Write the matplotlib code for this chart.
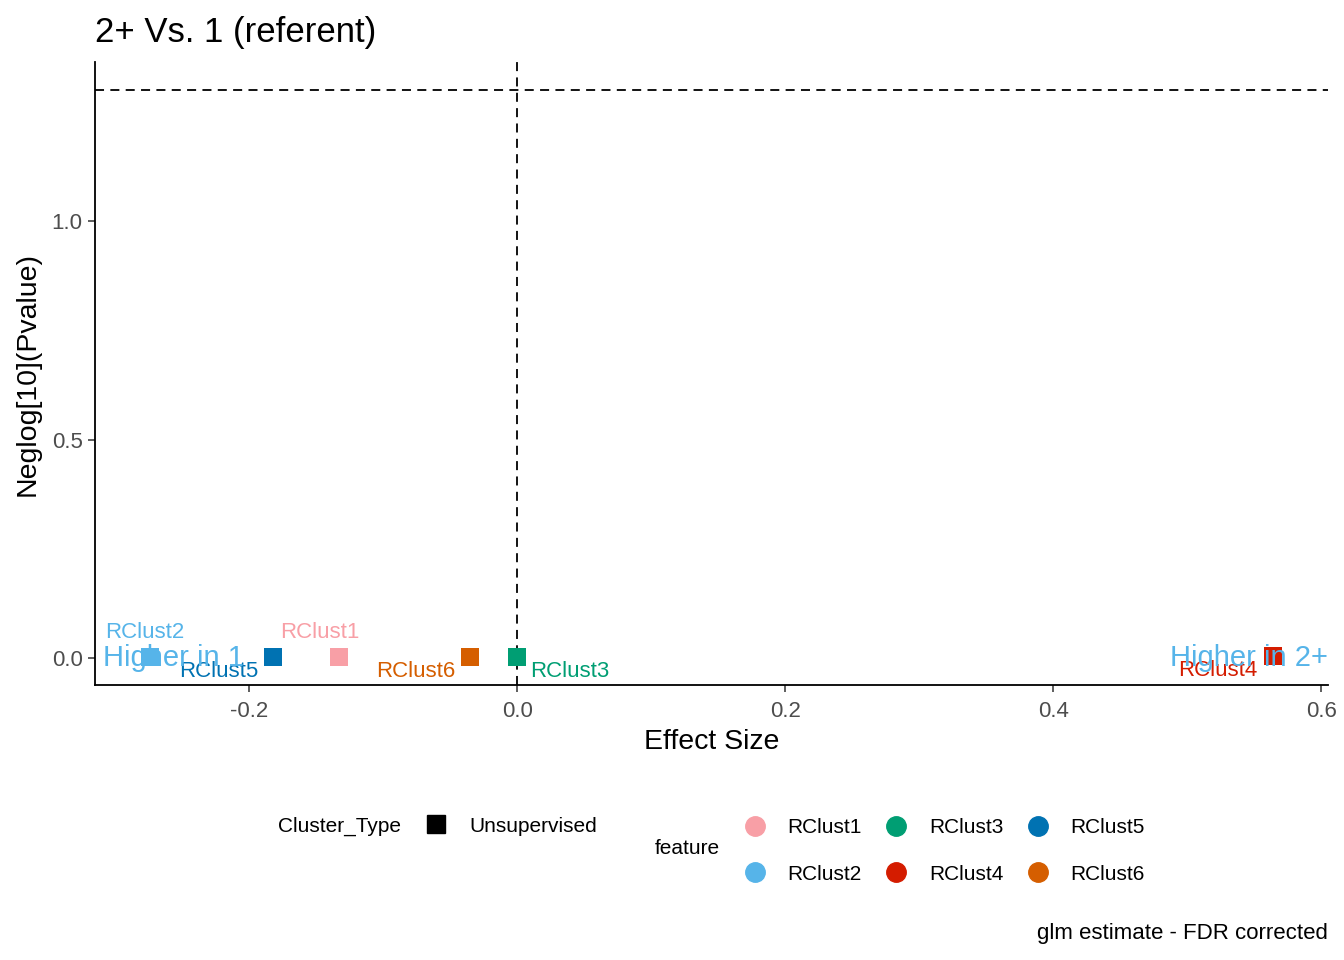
import matplotlib.pyplot as plt
from matplotlib.lines import Line2D

plt.rcParams['font.family'] = ['Liberation Sans', 'DejaVu Sans']

features = ["RClust1", "RClust2", "RClust3", "RClust4", "RClust5", "RClust6"]
effect = [-0.133, -0.274, 0.0, 0.564, -0.182, -0.035]
neglog_p = [0.003, 0.003, 0.003, 0.004, 0.003, 0.003]
colors = ["#F89FA6", "#56B4E9", "#009E73", "#D41C00", "#0072B2", "#D55E00"]
# label offsets in points (text centre relative to point)
label_dx = [-14, -4, 38, -40, -39, -39]
label_dy = [17.5, 17.5, -10.5, -10.5, -10.5, -10.5]

sig_line = 1.30103
title = "2+ Vs. 1 (referent)"
caption = "glm estimate - FDR corrected"

fig = plt.figure(figsize=(13.44, 9.6), dpi=100)
ax = fig.add_axes([0.0707, 0.2865, 0.9175, 0.6485])

ax.axhline(sig_line, color="black", linestyle=(0, (5, 3.5)), linewidth=1.3)
ax.axvline(0, color="black", linestyle=(0, (5, 3.5)), linewidth=1.3)

for i in range(len(features)):
	ax.scatter(effect[i], neglog_p[i], marker="s", s=173, color=colors[i], zorder=3, linewidths=0)
	ax.annotate(features[i], (effect[i], neglog_p[i]), xytext=(label_dx[i], label_dy[i]),
		textcoords="offset points", ha="center", va="center", fontsize=16, color=colors[i], zorder=4)

ax.text(-0.309, 0.0, "Higher in 1", color="#56B4E9", fontsize=21, ha="left", va="center", zorder=5)
ax.text(0.605, 0.0, "Higher in 2+", color="#56B4E9", fontsize=21, ha="right", va="center", zorder=5)

ax.set_xlim(-0.315, 0.605)
ax.set_ylim(-0.062, 1.364)
ax.set_xticks([-0.2, 0.0, 0.2, 0.4, 0.6])
ax.set_xticklabels(["-0.2", "0.0", "0.2", "0.4", "0.6"])
ax.set_yticks([0.0, 0.5, 1.0])
ax.set_yticklabels(["0.0", "0.5", "1.0"])
ax.tick_params(colors="#333333", labelsize=16, length=5, width=1.1)
ax.tick_params(axis="both", labelcolor="#4D4D4D")
ax.tick_params(axis="x", pad=6.5)
ax.tick_params(axis="y", pad=4)
for s in ["top", "right"]:
	ax.spines[s].set_visible(False)
for s in ["left", "bottom"]:
	ax.spines[s].set_linewidth(1.3)

ax.set_xlabel("Effect Size", fontsize=20.5)
ax.set_ylabel("Neglog[10](Pvalue)", fontsize=20.5)
ax.xaxis.set_label_coords(0.5, -0.0915)
ax.xaxis.label.set_va("center")
ax.yaxis.set_label_coords(-0.0543, 0.5)
ax.yaxis.label.set_va("center")
fig.text(0.0707, 1 - 42 / 960, title, fontsize=25, ha="left", va="baseline")

# legends
fig.text(0.207, 1 - 826 / 960, "Cluster_Type", fontsize=15, ha="left", va="center")
h1 = [Line2D([], [], marker="s", color="black", linestyle="", markersize=13)]
fig.legend(h1, ["Unsupervised"], loc="center left", bbox_to_anchor=(0.295, 1 - 826 / 960), frameon=False,
	fontsize=15, handletextpad=0.62)

fig.text(0.4874, 1 - 849 / 960, "feature", fontsize=15, ha="left", va="center")
h2 = [Line2D([], [], marker="o", color=c, linestyle="", markersize=14) for c in colors]
fig.legend(h2, features, ncol=3, loc="center left", bbox_to_anchor=(0.532, 1 - 851 / 960), frameon=False,
	fontsize=15, labelspacing=1.3, columnspacing=0.64, handletextpad=0.58)

fig.text(0.988, 1 - 933 / 960, caption, fontsize=16, ha="right", va="center")

fig.savefig("out.png", dpi=100)
